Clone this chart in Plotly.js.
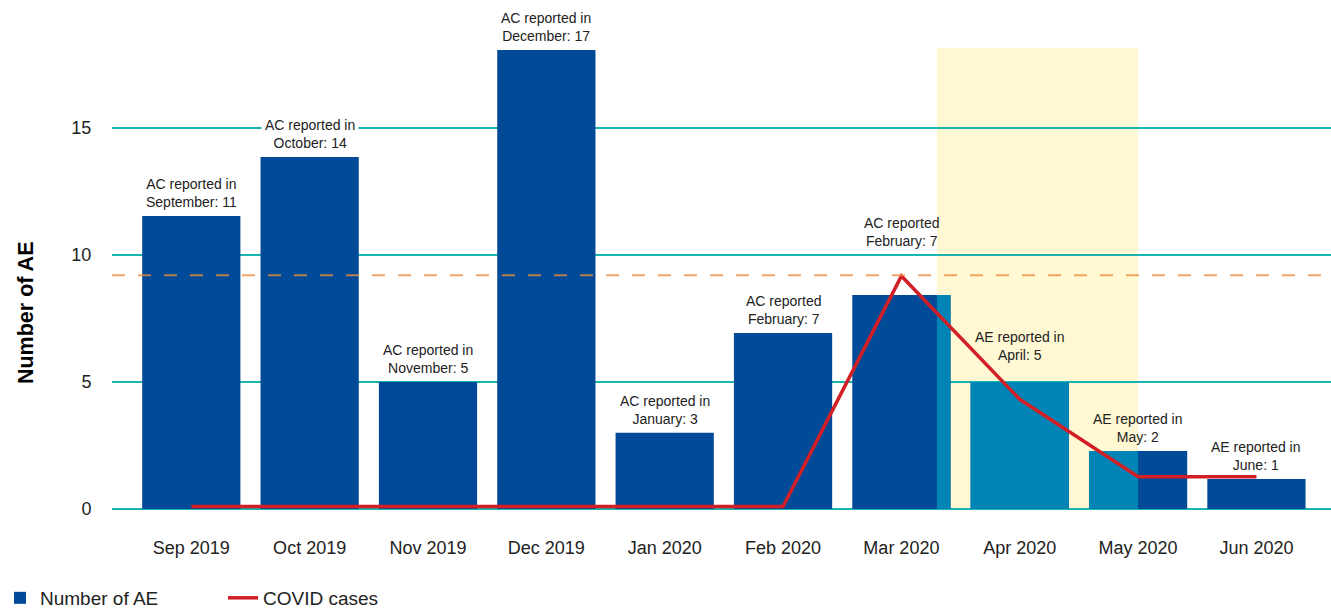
<!DOCTYPE html>
<html><head><meta charset="utf-8">
<script src="https://cdn.plot.ly/plotly-3.0.1.min.js"></script>
<style>html,body{margin:0;padding:0;background:#fff}</style>
</head><body><div id="chart" style="width:1331px;height:608px"></div>
<script>
// ---- data ----
const months = ['Sep 2019','Oct 2019','Nov 2019','Dec 2019','Jan 2020','Feb 2020','Mar 2020','Apr 2020','May 2020','Jun 2020'];
const aeCounts = [11.54, 13.86, 5, 18.07, 3, 6.93, 8.43, 5, 2.28, 1.18];
const covidCases = [0.1, 0.1, 0.1, 0.1, 0.1, 0.1, 9.17, 4.32, 1.27, 1.27];
const barLabels = [
  'AC reported in<br>September: 11',
  'AC reported in<br>October: 14',
  'AC reported in<br>November: 5',
  'AC reported in<br>December: 17',
  'AC reported in<br>January: 3',
  'AC reported<br>February: 7',
  'AC reported<br>February: 7',
  'AE reported in<br>April: 5',
  'AE reported in<br>May: 2',
  'AE reported in<br>June: 1'
];
const covidThreshold = 9.2;
const highlightStart = 6.3;   // category-axis units
const highlightEnd = 8.0;
const yTicks = [0, 5, 10, 15];

// ---- styles ----
const FONT = '"Liberation Sans", Arial, Helvetica, sans-serif';
const DARK = '#004A98', LIGHT = '#0083B5', RED = '#D21F26', TEAL = '#19B5B0', YELLOW = '#FFF8D2';
const BAR_W = 0.83;
const labelShift = [2,2,2,2,2,2,42,15,2,2];
const labelBg = [null,'#ffffff',null,null,null,null,null,null,null,null];

// overlay (part of each bar inside the highlighted period)
const ovY = [], ovW = [], ovOff = [];
aeCounts.forEach((v, i) => {
  const l = Math.max(i - BAR_W/2, highlightStart);
  const r = Math.min(i + BAR_W/2, highlightEnd);
  if (r > l) { ovY.push(v); ovW.push(r - l); ovOff.push(l - i); }
  else { ovY.push(null); ovW.push(0.01); ovOff.push(0); }
});

const traces = [
  {type:'bar', x: months, y: aeCounts, name:'Number of AE', marker:{color: DARK},
   width: BAR_W, hoverinfo:'x+y'},
  {type:'bar', x: months, y: ovY, width: ovW, offset: ovOff, marker:{color: LIGHT},
   showlegend:false, hoverinfo:'skip'},
  {type:'scatter', mode:'lines', x: months, y: covidCases, name:'COVID cases',
   line:{color: RED, width: 3.5}}
];

const annotations = months.map((m, i) => ({
  x: m, y: aeCounts[i], xref:'x', yref:'y', text: barLabels[i], showarrow:false,
  yanchor:'bottom', yshift: labelShift[i], font:{family: FONT, size: 14, color:'#222'},
  bgcolor: labelBg[i] || 'rgba(0,0,0,0)', borderpad: 3
}));
annotations.push({
  xref:'paper', yref:'paper', x: 0, y: 0.425, xshift: -86, xanchor:'center', yanchor:'middle',
  textangle: -90, showarrow:false, text:'<b>Number of AE</b>',
  font:{family: FONT, size: 21.5, color:'#000'}
});

const layout = {
  width: 1331, height: 608,
  margin: {l: 112, r: 0, t: 48, b: 99},
  paper_bgcolor:'#fff', plot_bgcolor:'#fff',
  barmode:'overlay',
  font:{family: FONT, color:'#222'},
  xaxis:{type:'category', range:[-0.67, 9.63], showgrid:false, showline:false, zeroline:false,
    ticks:'outside', ticklen:0, tickcolor:'rgba(0,0,0,0)', ticklabelstandoff: 22,
    tickfont:{family: FONT, size: 18, color:'#222'}, fixedrange:true},
  yaxis:{range:[0, 18.15], tickvals: yTicks, showgrid:true, gridcolor: TEAL, gridwidth: 1.5,
    zeroline:true, zerolinecolor: TEAL, zerolinewidth: 1.5, showline:false,
    ticks:'outside', ticklen:0, tickcolor:'rgba(0,0,0,0)', ticklabelstandoff: 16,
    tickfont:{family: FONT, size: 18, color:'#222'}, fixedrange:true},
  shapes:[
    {type:'rect', layer:'below', xref:'x', yref:'paper', x0: highlightStart, x1: highlightEnd, y0:0, y1:1,
     fillcolor: YELLOW, line:{width:0}},
    {type:'line', layer:'above', xref:'paper', yref:'y', x0:0, x1:1, y0: covidThreshold, y1: covidThreshold,
     line:{color:'rgba(238,140,60,0.78)', width:2, dash:'13px,13px'}}
  ],
  annotations: annotations,
  showlegend:true,
  legend:{orientation:'h', xref:'paper', yref:'container', x:-0.096, y:0.0165, xanchor:'left', yanchor:'middle',
    font:{family: FONT, size: 19, color:'#222'}, entrywidth: 178, entrywidthmode:'pixels',
    bgcolor:'rgba(0,0,0,0)', traceorder:'normal'}
};

Plotly.newPlot('chart', traces, layout, {displayModeBar:false, staticPlot:true});
</script></body></html>
